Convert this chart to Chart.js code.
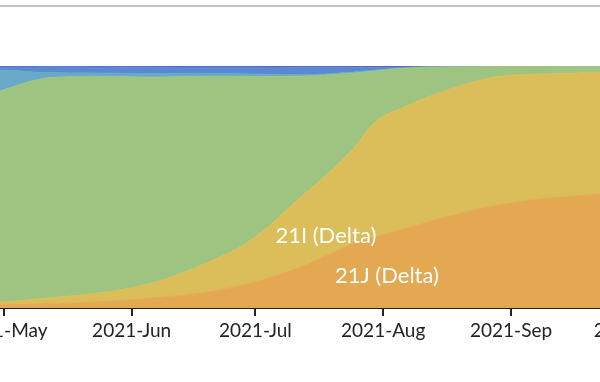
<!DOCTYPE html>
<html lang="en">
<head>
  <meta charset="UTF-8">
  <title>Clade frequencies</title>
  <style>
    body {
      margin: 0;
      width: 600px;
      height: 382px;
      overflow: hidden;
      position: relative;
      background: #fff;
      font-family: 'Lato', sans-serif;
    }

    #top-rule {
      position: absolute;
      left: 0;
      top: 5px;
      width: 600px;
      height: 2px;
      background: #c2c2c2;
    }

    #chart-container {
      position: absolute;
      left: -100px;
      top: 0;
      width: 800px;
      height: 382px;
    }
  </style>
</head>
<body>

<div id="top-rule"></div>
<div id="chart-container">
  <canvas id="freqChart"></canvas>
</div>

<script src="https://cdn.jsdelivr.net/npm/chart.js"></script>
<script>
  // days counted from 2021-05-01
  const dayOffsets = [-7, -1, 11, 23, 36, 48, 60, 72, 84, 90, 97, 109, 121, 133, 145, 151];

  const freq21J   = [0.008, 0.012, 0.017, 0.025, 0.041, 0.062, 0.103, 0.169, 0.260, 0.293, 0.326, 0.384, 0.428, 0.455, 0.471, 0.479];
  const freq21I   = [0.012, 0.012, 0.025, 0.037, 0.062, 0.116, 0.178, 0.289, 0.384, 0.475, 0.504, 0.525, 0.531, 0.512, 0.504, 0.500];
  const freq20I   = [0.839, 0.872, 0.909, 0.895, 0.851, 0.779, 0.676, 0.500, 0.326, 0.211, 0.161, 0.087, 0.040, 0.033, 0.025, 0.021];
  const freq20E   = [0.124, 0.087, 0.021, 0.014, 0.014, 0.012, 0.010, 0.006, 0.004, 0.004, 0.002, 0.002, 0, 0, 0, 0];
  const freq20A   = [0.012, 0.012, 0.025, 0.025, 0.027, 0.027, 0.029, 0.031, 0.021, 0.012, 0.002, 0.002, 0.001, 0, 0, 0];
  const freqOther = [0.004, 0.004, 0.004, 0.004, 0.004, 0.004, 0.004, 0.004, 0.004, 0.004, 0.004, 0.002, 0.001, 0, 0, 0];

  const monthDays   = [0, 31, 61, 92, 123, 153];
  const monthLabels = ['2021-May', '2021-Jun', '2021-Jul', '2021-Aug', '2021-Sep', '2021-Oct'];

  const labelNames  = ['21I (Delta)', '21J (Delta)'];
  const labelDays   = [78.1, 92.9];
  const labelValues = [0.298, 0.132];

  const series = [
    { label: '21J (Delta)', values: freq21J,   color: '#E4A853' },
    { label: '21I (Delta)', values: freq21I,   color: '#DBBD5A' },
    { label: '20I (Alpha, V1)', values: freq20I, color: '#9EC481' },
    { label: '20E (EU1)',   values: freq20E,   color: '#67A9C6' },
    { label: '20A',         values: freq20A,   color: '#5B88D3' },
    { label: 'other',       values: freqOther, color: '#4D53AE' }
  ];

  const datasets = series.map((s, i) => ({
    label: s.label,
    data: dayOffsets.map((d, j) => ({ x: d, y: s.values[j] })),
    backgroundColor: s.color,
    borderColor: s.color,
    borderWidth: 1,
    pointRadius: 0,
    cubicInterpolationMode: 'monotone',
    fill: i === 0 ? 'origin' : '-1'
  }));

  const areaLabels = {
    id: 'areaLabels',
    afterDatasetsDraw(chart) {
      const { ctx, scales } = chart;
      ctx.save();
      ctx.font = '22px Lato';
      ctx.fillStyle = '#ffffff';
      ctx.textAlign = 'center';
      ctx.textBaseline = 'middle';
      labelNames.forEach((name, i) => {
        ctx.fillText(name, scales.x.getPixelForValue(labelDays[i]), scales.y.getPixelForValue(labelValues[i]));
      });
      ctx.restore();
    }
  };

  const ctx = document.getElementById('freqChart').getContext('2d');
  const freqChart = new Chart(ctx, {
    type: 'line',
    data: { datasets: datasets },
    options: {
      responsive: true,
      maintainAspectRatio: false,
      animation: false,
      layout: { padding: { left: 100, right: 100, top: 66, bottom: 0 } },
      plugins: {
        legend: { display: false },
        tooltip: { enabled: false }
      },
      scales: {
        x: {
          type: 'linear',
          min: -0.92,
          max: 144.57,
          afterBuildTicks: (axis) => {
            axis.ticks = monthDays.map(v => ({ value: v }));
          },
          afterFit: (axis) => {
            axis.height = 74;
          },
          ticks: {
            autoSkip: false,
            maxRotation: 0,
            padding: 3,
            color: '#222',
            font: { family: 'Lato', size: 19 },
            callback: (value) => monthLabels[monthDays.indexOf(value)]
          },
          grid: {
            drawOnChartArea: false,
            drawTicks: true,
            tickLength: 8,
            lineWidth: 2,
            color: '#222'
          },
          border: { display: true, color: '#222', width: 2 }
        },
        y: {
          display: false,
          stacked: true,
          min: 0,
          max: 1
        }
      }
    },
    plugins: [areaLabels]
  });
</script>

</body>
</html>
